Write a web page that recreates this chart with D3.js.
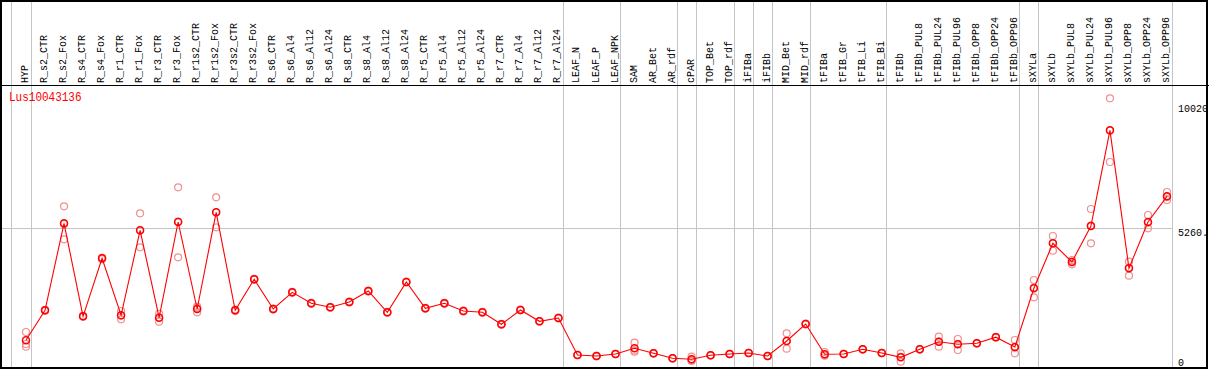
<!DOCTYPE html>
<html><head><meta charset="utf-8">
<script src="https://cdn.jsdelivr.net/npm/d3@7"></script>
<style>body{margin:0;background:#fff}svg{display:block}</style>
</head><body>
<script>
const geneName = "Lus10043136";
const categories = ["HYP","R_s2_CTR","R_s2_Fox","R_s4_CTR","R_s4_Fox","R_r1_CTR","R_r1_Fox","R_r3_CTR","R_r3_Fox","R_r1s2_CTR","R_r1s2_Fox","R_r3s2_CTR","R_r3s2_Fox","R_s6_CTR","R_s6_Al4","R_s6_Al12","R_s6_Al24","R_s8_CTR","R_s8_Al4","R_s8_Al12","R_s8_Al24","R_r5_CTR","R_r5_Al4","R_r5_Al12","R_r5_Al24","R_r7_CTR","R_r7_Al4","R_r7_Al12","R_r7_Al24","LEAF_N","LEAF_P","LEAF_NPK","SAM","AR_Bet","AR_rdf","cPAR","TOP_Bet","TOP_rdf","iFIBa","iFIBb","MID_Bet","MID_rdf","tFIBa","tFIB_Gr","tFIB_Li","tFIB_Bi","tFIBb","tFIBb_PUL8","tFIBb_PUL24","tFIBb_PUL96","tFIBb_OPP8","tFIBb_OPP24","tFIBb_OPP96","sXYLa","sXYLb","sXYLb_PUL8","sXYLb_PUL24","sXYLb_PUL96","sXYLb_OPP8","sXYLb_OPP24","sXYLb_OPP96"];
const means = [972,2121,5452,1891,4112,1930,5184,1838,5502,2171,5874,2121,3308,2171,2810,2389,2236,2439,2860,2045,3205,2198,2389,2094,2045,1585,2133,1700,1826,410,371,448,666,475,283,245,398,448,486,371,946,1597,436,448,628,486,321,628,919,819,858,1093,716,2963,4687,3971,5349,9013,3729,5502,6486];
const rep1 = [1290,2121,6103,1891,4112,2094,5835,1685,6831,2259,6448,2121,3308,2171,2810,2389,2236,2439,2860,2045,3205,2198,2389,2094,2045,1585,2133,1700,1826,410,371,448,881,475,283,345,398,448,486,371,1241,1597,525,448,628,486,475,628,1110,1022,858,1093,984,3281,4966,4047,6000,10238,3982,5770,6651];
const rep2 = [831,2100,4840,1870,4080,1777,4533,1838,4151,2045,5299,2090,3290,2150,2790,2370,2220,2420,2840,2030,3190,2180,2370,2080,2030,1570,2120,1690,1810,400,360,440,536,465,275,180,390,440,478,362,651,1585,400,440,618,478,153,618,727,601,850,1080,475,2619,4403,3883,4687,7800,3446,5261,6345];
const rep3 = [727,2140,5420,1910,4140,1920,5180,1990,5520,2210,5875,2150,3330,2190,2830,2405,2250,2455,2880,2060,3220,2215,2405,2110,2060,1600,2145,1710,1840,420,380,455,581,485,290,210,405,455,494,380,946,1610,383,456,638,494,335,638,919,834,866,1105,690,2990,4692,3983,5360,9001,3759,5475,6462];
const separatorsAfter = ["HYP","R_r7_Al24","LEAF_NPK","AR_rdf","cPAR","TOP_rdf","iFIBa","iFIBb","MID_rdf","tFIB_Bi","tFIBb_OPP96","sXYLa","sXYLb_OPP96"];
const tickValues = [10020, 5260, 0];
const tickLabels = ["10020", "5260.", "0"];

const W = 1209, H = 370;
const svg = d3.select("body").append("svg").attr("width", W).attr("height", H)
  .style("font-family", "'Liberation Mono', 'DejaVu Sans Mono', monospace");
svg.append("rect").attr("width", W).attr("height", H).attr("fill", "#fff");

const x = d3.scalePoint().domain(categories).range([26, 1167]);
const step = x.step();
const y = d3.scaleLinear().domain([0, 10020]).range([365.7, 104]);

const gray = "#c4c4c4";
// vertical separators
const sepX = [x(categories[0]) - step + 4.5].concat(separatorsAfter.map(c => x(c) + 4.5));
svg.selectAll("line.sep").data(sepX).join("line")
  .attr("x1", d => Math.round(d) + 0.5).attr("x2", d => Math.round(d) + 0.5)
  .attr("y1", 0).attr("y2", 368).attr("stroke", gray).attr("stroke-width", 1);

// horizontal mid gridline
svg.append("line").attr("x1", 0).attr("x2", Math.round(x(categories[60]) + 4.5) + 0.5)
  .attr("y1", Math.round(y(5260)) + 0.5).attr("y2", Math.round(y(5260)) + 0.5)
  .attr("stroke", gray).attr("stroke-width", 1);

// column labels
svg.selectAll("text.col").data(categories).join("text")
  .attr("transform", d => `translate(${x(d) + 2},83) rotate(-90)`)
  .attr("font-size", 10).attr("fill", "#000").text(d => d);

// header separator + frame
svg.append("line").attr("x1", 0).attr("x2", W).attr("y1", 85.5).attr("y2", 85.5)
  .attr("stroke", "#000").attr("stroke-width", 1.2);
svg.append("rect").attr("x", 1).attr("y", 1).attr("width", 1206).attr("height", 367)
  .attr("fill", "none").attr("stroke", "#000").attr("stroke-width", 2);

// gene name
svg.append("text").attr("transform", "translate(9,101) scale(0.88,1)")
  .attr("font-size", 12.5).attr("fill", "#ff0000").text(geneName);

// right axis labels
svg.selectAll("text.tick").data(tickValues).join("text")
  .attr("x", 1178)
  .attr("y", (d, i) => d === 0 ? y(d) : y(d) + 7.5)
  .attr("font-size", 10).attr("fill", "#000")
  .text((d, i) => tickLabels[i]);

// replicates
const repColor = "#f09090";
[rep1, rep2, rep3].forEach(rep => {
  svg.append("g").selectAll("circle").data(rep).join("circle")
    .attr("cx", (d, i) => x(categories[i])).attr("cy", d => y(d)).attr("r", 3.5)
    .attr("fill", "none").attr("stroke", repColor).attr("stroke-width", 1.2);
});

// mean line
const line = d3.line().x((d, i) => x(categories[i])).y(d => y(d));
svg.append("path").datum(means).attr("d", line).attr("fill", "none")
  .attr("stroke", "#ff0000").attr("stroke-width", 1.1);
svg.append("g").selectAll("circle").data(means).join("circle")
  .attr("cx", (d, i) => x(categories[i])).attr("cy", d => y(d)).attr("r", 3.5)
  .attr("fill", "none").attr("stroke", "#ff0000").attr("stroke-width", 1.5);
</script>
</body></html>
